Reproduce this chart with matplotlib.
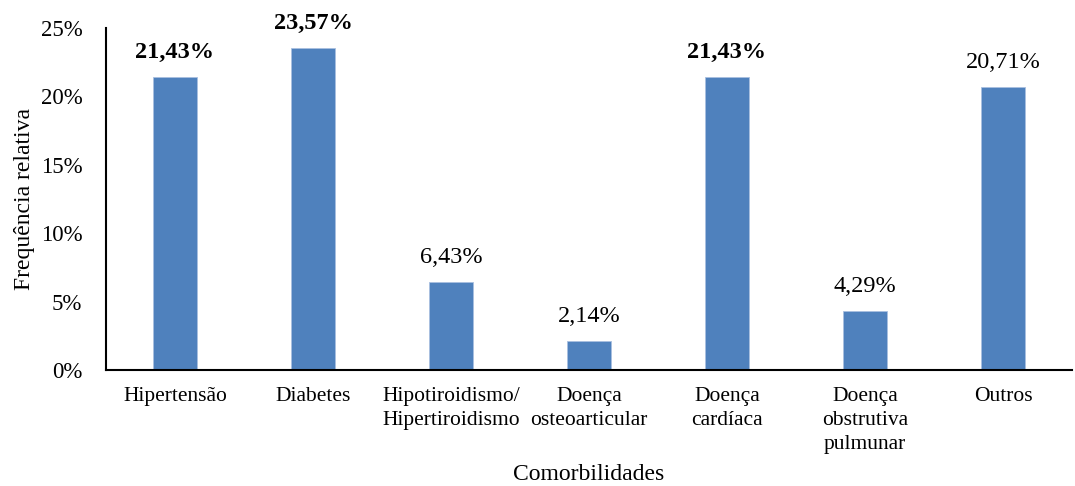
import matplotlib
matplotlib.use("Agg")
import matplotlib.pyplot as plt
from matplotlib.ticker import FuncFormatter

categories = ["Hipertensão", "Diabetes", "Hipotiroidismo/\nHipertiroidismo", "Doença\nosteoarticular",
              "Doença\ncardíaca", "Doença\nobstrutiva\npulmunar", "Outros"]
values = [0.2143, 0.2357, 0.0643, 0.0214, 0.2143, 0.0429, 0.2071]
labels = ["21,43%", "23,57%", "6,43%", "2,14%", "21,43%", "4,29%", "20,71%"]
bold = [True, True, False, False, True, False, False]
yticks = [0, 0.05, 0.10, 0.15, 0.20, 0.25]

plt.rcParams['font.family'] = ['Liberation Serif', 'DejaVu Serif']

fig = plt.figure(figsize=(10.75, 4.86), dpi=100)
ax = fig.add_axes([106/1075, 1 - 370/486, (1072-106)/1075, (370-28)/486])

x = list(range(len(categories)))
ax.bar(x, values, width=0.32, color="#4F81BD", edgecolor="#A9C0E0", linewidth=0.6, zorder=2)
ax.set_xlim(-0.5, len(categories) - 0.5)
ax.set_ylim(0, 0.25)
ax.set_yticks(yticks)
ax.yaxis.set_major_formatter(FuncFormatter(lambda v, p: f"{v*100:.0f}%"))
ax.set_xticks(x)
ax.set_xticklabels(categories, fontsize=15.5, linespacing=1.36)
ax.tick_params(axis='y', labelsize=16.5, length=0, pad=17)
ax.tick_params(axis='x', length=0, pad=12)
for s in ['top', 'right']:
    ax.spines[s].set_visible(False)
for s in ['left', 'bottom']:
    ax.spines[s].set_linewidth(1.5)
    ax.spines[s].set_color('black')

for xi, v, lab, b in zip(x, values, labels, bold):
    ax.annotate(lab, (xi, v), xytext=(0, 10), textcoords='offset points', ha='center', va='bottom',
                fontsize=17.5, fontweight='bold' if b else 'normal')

ax.set_ylabel("Frequência relativa", fontsize=17, labelpad=4)
ax.set_xlabel("Comorbilidades", fontsize=17, labelpad=7.5)

fig.savefig("out.png", dpi=100)
